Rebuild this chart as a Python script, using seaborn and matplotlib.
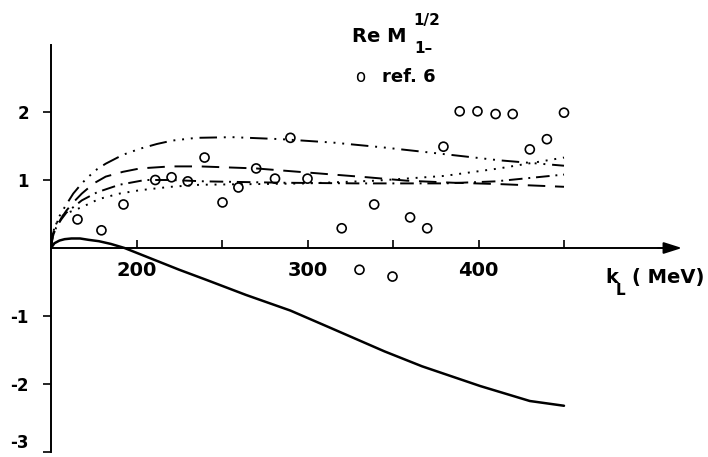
import numpy as np
import pandas as pd
import matplotlib
matplotlib.use("Agg")
import matplotlib.pyplot as plt
import seaborn as sns

# ---- data ----
solid_x = [150, 152, 155, 158, 162, 167, 172, 178, 185, 193, 210, 225, 241, 264, 290, 313, 345, 367, 401, 430, 450]
solid_y = [0.0, 0.07, 0.11, 0.13, 0.14, 0.14, 0.12, 0.10, 0.06, 0.0, -0.17, -0.32, -0.47, -0.69, -0.92, -1.17, -1.52, -1.74, -2.03, -2.25, -2.32]

dd_x = [150, 151, 153, 155, 158, 163, 168, 172, 177, 182, 192, 202, 212, 221, 235, 256, 285, 315, 344, 373, 412, 450]
dd_y = [0.0, 0.2, 0.35, 0.47, 0.6, 0.8, 0.95, 1.05, 1.16, 1.24, 1.37, 1.46, 1.53, 1.58, 1.62, 1.63, 1.60, 1.55, 1.48, 1.40, 1.29, 1.21]

dash_x = [150, 151, 153, 156, 159, 163, 168, 175, 182, 192, 202, 220, 237, 270, 305, 335, 358, 385, 412, 450]
dash_y = [0.0, 0.17, 0.3, 0.44, 0.55, 0.67, 0.8, 0.95, 1.05, 1.12, 1.17, 1.2, 1.2, 1.17, 1.10, 1.04, 0.99, 0.96, 0.94, 0.90]

dot_dash_x = [150, 151, 153, 156, 159, 163, 168, 177, 190, 205, 220, 240, 285, 330, 380, 410, 430, 450]
dot_dash_y = [0.0, 0.17, 0.3, 0.42, 0.52, 0.6, 0.7, 0.82, 0.93, 1.0, 1.0, 0.98, 0.96, 0.95, 0.95, 0.98, 1.03, 1.08]

dot_x = [150, 151, 152, 155, 160, 168, 178, 190, 202, 220, 237, 270, 300, 340, 380, 412, 450]
dot_y = [0.0, 0.2, 0.3, 0.45, 0.52, 0.6, 0.72, 0.8, 0.85, 0.9, 0.93, 0.94, 0.95, 0.99, 1.06, 1.17, 1.33]

ref_x = [165.5, 179.5, 192.4, 211, 220.5, 230, 239.8, 250.3, 259.6, 270, 281, 290, 300,
         320, 330.4, 339, 349.7, 360, 370, 379.5, 389, 399.4, 410, 420, 430, 440, 450]
ref_y = [0.42, 0.26, 0.64, 1.0, 1.04, 0.98, 1.33, 0.67, 0.89, 1.17, 1.02, 1.62, 1.02,
         0.29, -0.32, 0.64, -0.42, 0.45, 0.29, 1.49, 2.01, 2.01, 1.97, 1.97, 1.45, 1.6, 1.99]

x_major = [200, 300, 400]
x_minor = [250, 350, 450]
y_ticks = [-3, -2, -1, 1, 2]
y_labels = ["-3", "-2", "-1", "1", "2"]

# ---- figure ----
sns.set_style("white")
plt.rcParams["font.family"] = ["DejaVu Sans"]
plt.rcParams["text.color"] = "black"
plt.rcParams["xtick.color"] = "black"
plt.rcParams["ytick.color"] = "black"
plt.rcParams["axes.labelcolor"] = "black"

W, H = 708, 457
fig = plt.figure(figsize=(W / 100, H / 100), dpi=100)
x0_px, x_scale = 51, 1.71        # pixel of x=150 and px per MeV
y_top_px, y_bot_px = 45, 452
xmin, xmax = 150, 150 + (W - x0_px) / x_scale
ymin, ymax = -3.0, (248 - y_top_px) / 68.0
ax = fig.add_axes([x0_px / W, (H - y_bot_px) / H, (W - x0_px) / W, (y_bot_px - y_top_px) / H])
ax.set_xlim(xmin, xmax)
ax.set_ylim(ymin, ymax)

curves = pd.concat([
    pd.DataFrame({"k": dd_x, "v": dd_y, "curve": "dd"}),
    pd.DataFrame({"k": dash_x, "v": dash_y, "curve": "dash"}),
    pd.DataFrame({"k": dot_dash_x, "v": dot_dash_y, "curve": "dotdash"}),
    pd.DataFrame({"k": dot_x, "v": dot_y, "curve": "dot"}),
], ignore_index=True)
dash_styles = {"dd": (9, 3.5, 1, 3.5, 1, 3.5, 1, 3.5),
               "dash": (9, 5),
               "dotdash": (7, 3, 1, 3),
               "dot": (1, 3.5)}
sns.lineplot(data=curves, x="k", y="v", style="curve", dashes=dash_styles,
             color="black", lw=1.4, estimator=None, sort=False, legend=False, ax=ax)

sns.lineplot(x=solid_x, y=solid_y, color="black", lw=1.8, estimator=None,
             sort=False, legend=False, ax=ax)

sns.scatterplot(x=ref_x, y=ref_y, marker="o", s=42, facecolor="none",
                edgecolor="black", linewidth=1.2, legend=False, ax=ax, zorder=5)

# ---- axes styling ----
for s in ["top", "right"]:
    ax.spines[s].set_visible(False)
ax.spines["left"].set_position(("data", 150))
ax.spines["left"].set_linewidth(1.4)
ax.spines["left"].set_color("black")
ax.spines["bottom"].set_position(("data", 0))
ax.spines["bottom"].set_bounds(150, 508)
ax.spines["bottom"].set_linewidth(1.4)
ax.spines["bottom"].set_color("black")
ax.annotate("", xy=(519, 0), xytext=(505, 0),
            arrowprops=dict(arrowstyle="-|>,head_length=1.1,head_width=0.35",
                            color="black", lw=1.4, shrinkA=0, shrinkB=0),
            annotation_clip=False)

ax.set_xticks(x_major)
ax.set_xticklabels([str(v) for v in x_major])
ax.set_xticks(x_minor, minor=True)
ax.tick_params(axis="x", which="both", direction="in", length=6, width=1.2,
               color="black", bottom=True, pad=9)
ax.tick_params(axis="x", which="major", labelsize=14)
for t in ax.get_xticklabels():
    t.set_fontweight("bold")

ax.set_yticks(y_ticks)
ax.set_yticklabels(y_labels)
ax.tick_params(axis="y", which="major", direction="out", length=6, width=1.2,
               color="black", left=True, pad=10, labelsize=12)
for t in ax.get_yticklabels():
    t.set_fontweight("bold")
ax.get_yticklabels()[0].set_va("bottom")
ax.set_xlabel("")
ax.set_ylabel("")

# ---- texts (pixel positions converted to figure fraction) ----
def fx(px):
    return px / W

def fy(py):
    return 1 - py / H

fig.text(fx(352), fy(42), "Re M", fontsize=14, fontweight="bold", ha="left", va="baseline")
fig.text(fx(413), fy(25), "1/2", fontsize=11, fontweight="bold", ha="left", va="baseline")
fig.text(fx(414), fy(53), "1\u2013", fontsize=11, fontweight="bold", ha="left", va="baseline")
fig.text(fx(355), fy(82), "o", fontsize=12, ha="left", va="baseline")
fig.text(fx(382), fy(82), "ref. 6", fontsize=13, fontweight="bold", ha="left", va="baseline")
fig.text(fx(605), fy(283), "k", fontsize=14, fontweight="bold", ha="left", va="baseline")
fig.text(fx(616), fy(295), "L", fontsize=11, fontweight="bold", ha="left", va="baseline")
fig.text(fx(632), fy(283), "( MeV)", fontsize=14, fontweight="bold", ha="left", va="baseline")

fig.savefig("out.png", dpi=100, facecolor="white")
